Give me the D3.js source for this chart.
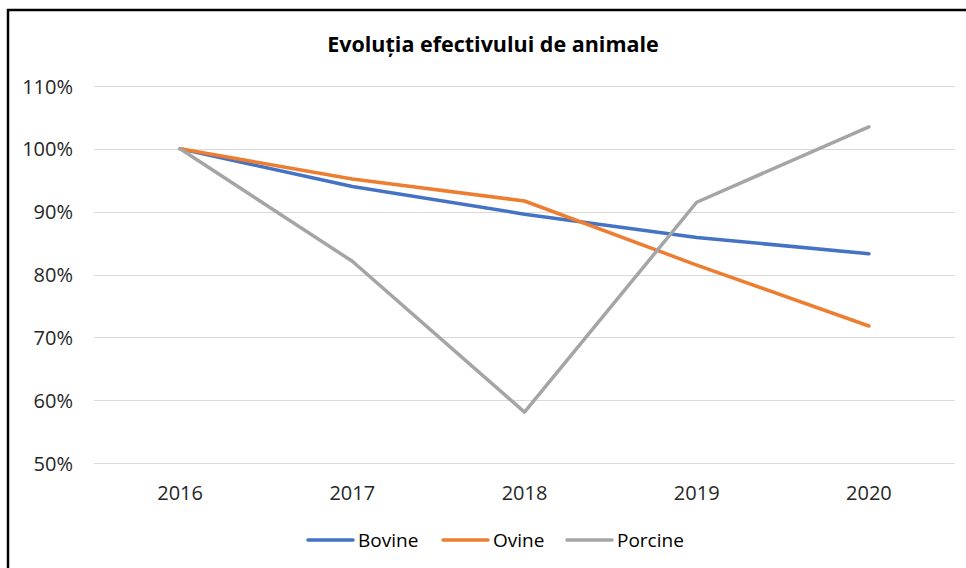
<!DOCTYPE html>
<html><head><meta charset="utf-8">
<script src="https://cdn.jsdelivr.net/npm/d3@7"></script>
<style>body{margin:0;background:#fff}svg{display:block}</style>
</head><body>
<svg id="c" width="966" height="568"></svg>
<script>
const categories = ["2016","2017","2018","2019","2020"];
const seriesNames = ["Bovine","Ovine","Porcine"];
const bovine  = [1.000, 0.940, 0.896, 0.859, 0.833];
const ovine   = [1.000, 0.952, 0.917, 0.815, 0.718];
const porcine = [1.000, 0.821, 0.581, 0.915, 1.035];
const colors  = ["#4472C4","#ED7D31","#A5A5A5"];
const yTicks  = [0.5,0.6,0.7,0.8,0.9,1.0,1.1];
const title   = "Evoluția efectivului de animale";

const series = [bovine, ovine, porcine];
const svg = d3.select("#c");
const font = "'Open Sans', sans-serif";

// chart border (cropped at right/bottom)
svg.append("path").attr("d","M8,568 V10 H966").attr("fill","none").attr("stroke","#000").attr("stroke-width",2.5);

const x = d3.scaleBand().domain(categories).range([94,955]);
const y = d3.scaleLinear().domain([0.5,1.1]).range([463,86]);

// gridlines
svg.append("g").selectAll("line").data(yTicks).join("line")
  .attr("x1",94).attr("x2",955)
  .attr("y1",d=>Math.round(y(d))+0.5).attr("y2",d=>Math.round(y(d))+0.5)
  .attr("stroke","#D9D9D9").attr("stroke-width",1);

// y axis labels
const yAxis = d3.axisLeft(y).tickValues(yTicks).tickFormat(d3.format(".0%")).tickSize(0).tickPadding(0);
const gy = svg.append("g").attr("transform","translate(73,0)").call(yAxis);
gy.select(".domain").remove();
gy.selectAll("text").attr("font-family",font).attr("font-size",20).attr("fill","#262626").attr("dy","0.35em");

// x axis labels
const xAxis = d3.axisBottom(x).tickSize(0).tickPadding(0);
const gx = svg.append("g").attr("transform","translate(0,493)").call(xAxis);
gx.select(".domain").remove();
gx.selectAll("text").attr("font-family",font).attr("font-size",20).attr("fill","#262626").attr("dy","0.35em");

// lines
const line = d3.line().x((d,i)=>x(categories[i])+x.bandwidth()/2).y(d=>y(d));
svg.append("g").selectAll("path").data(series).join("path")
  .attr("d",line).attr("fill","none")
  .attr("stroke",(d,i)=>colors[i]).attr("stroke-width",3.5)
  .attr("stroke-linecap","round").attr("stroke-linejoin","round");

// title
svg.append("text").attr("x",493).attr("y",44).attr("text-anchor","middle")
  .attr("dy","0.35em").attr("font-family",font).attr("font-weight","bold")
  .attr("font-size",21.5).attr("fill","#000").text(title);

// legend
const legX = [308,443,567];
const lg = svg.append("g").selectAll("g").data(seriesNames).join("g")
  .attr("transform",(d,i)=>`translate(${legX[i]},540)`);
lg.append("line").attr("x1",0).attr("x2",45).attr("y1",0).attr("y2",0)
  .attr("stroke",(d,i)=>colors[i]).attr("stroke-width",3.5).attr("stroke-linecap","round");
lg.append("text").attr("x",50).attr("dy","0.35em").attr("font-family",font)
  .attr("font-size",19).attr("fill","#000").text(d=>d);
</script>
</body></html>
